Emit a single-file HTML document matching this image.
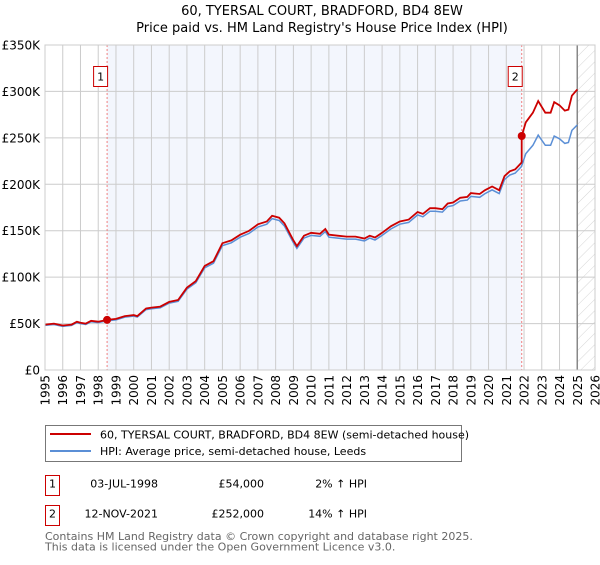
<!DOCTYPE html>
<html><head><meta charset="utf-8"><style>
body{margin:0;background:#fff;}
svg text{font-family:"DejaVu Sans","Liberation Sans",sans-serif;}
</style></head><body>
<svg id="chart" width="600" height="560" xmlns="http://www.w3.org/2000/svg">
<defs>
<pattern id="hatch" width="8" height="8" patternUnits="userSpaceOnUse" patternTransform="rotate(45)">
<line x1="0" y1="0" x2="0" y2="8" stroke="#ccc" stroke-width="0.8"/>
</pattern>
</defs>
<text x="322" y="15" text-anchor="middle" font-size="13" fill="#000">60, TYERSAL COURT, BRADFORD, BD4 8EW</text>
<text x="322" y="32" text-anchor="middle" font-size="13" fill="#000">Price paid vs. HM Land Registry's House Price Index (HPI)</text>
<g id="plot"></g>
<g>
<rect x="45.5" y="425.5" width="416" height="36" fill="#fff" stroke="#777"/>
<line x1="50" y1="434" x2="91" y2="434" stroke="#cc0000" stroke-width="2"/>
<text x="100" y="438.5" font-size="11">60, TYERSAL COURT, BRADFORD, BD4 8EW (semi-detached house)</text>
<line x1="50" y1="451" x2="91" y2="451" stroke="#5b8fd6" stroke-width="2"/>
<text x="100" y="455" font-size="11">HPI: Average price, semi-detached house, Leeds</text>
</g>
<g font-size="11">
<rect x="45.5" y="475.5" width="14" height="20" fill="#fff" stroke="#cc0000"/>
<text x="52.5" y="487.5" text-anchor="middle">1</text>
<text x="158" y="487.5" text-anchor="end">03-JUL-1998</text>
<text x="264" y="487.5" text-anchor="end">£54,000</text>
<text x="367" y="487.5" text-anchor="end">2% ↑ HPI</text>
<rect x="45.5" y="505.5" width="14" height="20" fill="#fff" stroke="#cc0000"/>
<text x="52.5" y="517.5" text-anchor="middle">2</text>
<text x="158" y="517.5" text-anchor="end">12-NOV-2021</text>
<text x="264" y="517.5" text-anchor="end">£252,000</text>
<text x="367" y="517.5" text-anchor="end">14% ↑ HPI</text>
</g>
<text x="45" y="540" font-size="11" fill="#666">Contains HM Land Registry data © Crown copyright and database right 2025.</text>
<text x="45" y="550.5" font-size="11" fill="#666">This data is licensed under the Open Government Licence v3.0.</text>
</svg>
<script>
const hpiYears = [1995,1995.5,1996,1996.5,1996.8,1997,1997.3,1997.6,1998,1998.5,1999,1999.5,2000,2000.2,2000.7,2001,2001.5,2002,2002.5,2003,2003.5,2004,2004.5,2005,2005.5,2006,2006.5,2007,2007.5,2007.8,2008.2,2008.5,2009,2009.2,2009.6,2010,2010.5,2010.8,2011,2011.5,2012,2012.5,2013,2013.3,2013.6,2014,2014.5,2015,2015.5,2016,2016.3,2016.7,2017,2017.4,2017.7,2018,2018.4,2018.8,2019,2019.5,2019.8,2020.2,2020.6,2020.9,2021.2,2021.5,2021.85,2022.1,2022.5,2022.8,2023.2,2023.5,2023.7,2024,2024.3,2024.5,2024.7,2025];
const hpiValues = [48,49,47,48,51,50,49,52,51,53,54,57,58,57,65,66,67,72,74,87,94,110,115,134,137,143,147,154,157,163,161,155,137,131,142,145,144,149,143,142,141,141,139,142,140,145,152,157,159,167,165,171,171,170,176,177,182,183,187,186,190,194,190,205,210,212,219,233,242,253,242,242,252,249,244,245,258,264];
const saleYears = [1998.5, 2021.87];
const salePrices = [54, 252];
const yTicks = [0,50,100,150,200,250,300,350];
const yTickLabels = ["£0","£50K","£100K","£150K","£200K","£250K","£300K","£350K"];
const xTicks = [1995,1996,1997,1998,1999,2000,2001,2002,2003,2004,2005,2006,2007,2008,2009,2010,2011,2012,2013,2014,2015,2016,2017,2018,2019,2020,2021,2022,2023,2024,2025,2026];

const L=45,R=595,T=45,B=370;
const xS=y=>L+(y-1995)/(2026-1995)*(R-L);
const yS=v=>B-v/350*(B-T);
const NS="http://www.w3.org/2000/svg";
const g=document.getElementById('plot');
function mk(tag,attrs){const e=document.createElementNS(NS,tag);for(const k in attrs)e.setAttribute(k,attrs[k]);g.appendChild(e);return e;}
function hpiAt(y){for(let i=1;i<hpiYears.length;i++){if(y<=hpiYears[i]){const t=(y-hpiYears[i-1])/(hpiYears[i]-hpiYears[i-1]);return hpiValues[i-1]+t*(hpiValues[i]-hpiValues[i-1]);}}return hpiValues[hpiValues.length-1];}

let r=mk('rect',{x:xS(saleYears[0]),y:T,width:xS(saleYears[1])-xS(saleYears[0]),height:B-T,fill:'#f3f6fd'});


r=mk('rect',{x:xS(2025),y:T,width:R-xS(2025),height:B-T,fill:'url(#hatch)'});


yTicks.forEach((v,i)=>{
  let l=mk('line',{x1:L,x2:R,y1:yS(v),y2:yS(v),stroke:'#ccc'});
  
  
  let t=mk('text',{x:L-5,y:yS(v)+4.5,'text-anchor':'end','font-size':'12'});
  t.textContent=yTickLabels[i];
  
  
});
xTicks.forEach(y=>{
  let l=mk('line',{x1:xS(y),x2:xS(y),y1:T,y2:B,stroke:'#ccc'});
  
  
  let t=mk('text',{x:0,y:0,'text-anchor':'end','font-size':'12',transform:`translate(${xS(y)+4.5},${B+5}) rotate(-90)`});
  t.textContent=y;
  
  
});
let vl=mk('line',{x1:xS(2025),x2:xS(2025),y1:T,y2:B,stroke:'#888','stroke-width':1.5});


saleYears.forEach((y,i)=>{
  let l=mk('line',{x1:xS(y),x2:xS(y),y1:T,y2:B,stroke:'#f08080','stroke-dasharray':'2,2'});
  
  
});
let hp=hpiYears.map((y,i)=>xS(y).toFixed(1)+','+yS(hpiValues[i]).toFixed(1)).join(' ');
let hl=mk('polyline',{points:hp,fill:'none',stroke:'#5b8fd6','stroke-width':1.5});


const r1=salePrices[0]/hpiAt(saleYears[0]), r2=salePrices[1]/hpiAt(saleYears[1]);
let pts=[];
hpiYears.forEach((y,i)=>{ if(y<saleYears[1]) pts.push([y,hpiValues[i]*r1]); });
pts.push([saleYears[1],hpiAt(saleYears[1])*r1]);
pts.push([saleYears[1],salePrices[1]]);
hpiYears.forEach((y,i)=>{ if(y>saleYears[1]) pts.push([y,hpiValues[i]*r2]); });
let pl=mk('polyline',{points:pts.map(p=>xS(p[0]).toFixed(1)+','+yS(p[1]).toFixed(1)).join(' '),fill:'none',stroke:'#cc0000','stroke-width':1.8});


saleYears.forEach((y,i)=>{
  let c=mk('circle',{cx:xS(y),cy:yS(salePrices[i]),r:4,fill:'#cc0000'});
  
  
  let b=mk('rect',{x:xS(y)-13.5,y:66.5,width:14,height:20,fill:'#fff',stroke:'#cc0000'});
  
  
  let t=mk('text',{x:xS(y)-6.5,y:80.5,'text-anchor':'middle','font-size':'11'});
  t.textContent=String(i+1);
  
  
});
let fr=mk('rect',{x:L,y:T,width:R-L,height:B-T,fill:'none',stroke:'#ccc'});


</script>
</body></html>
